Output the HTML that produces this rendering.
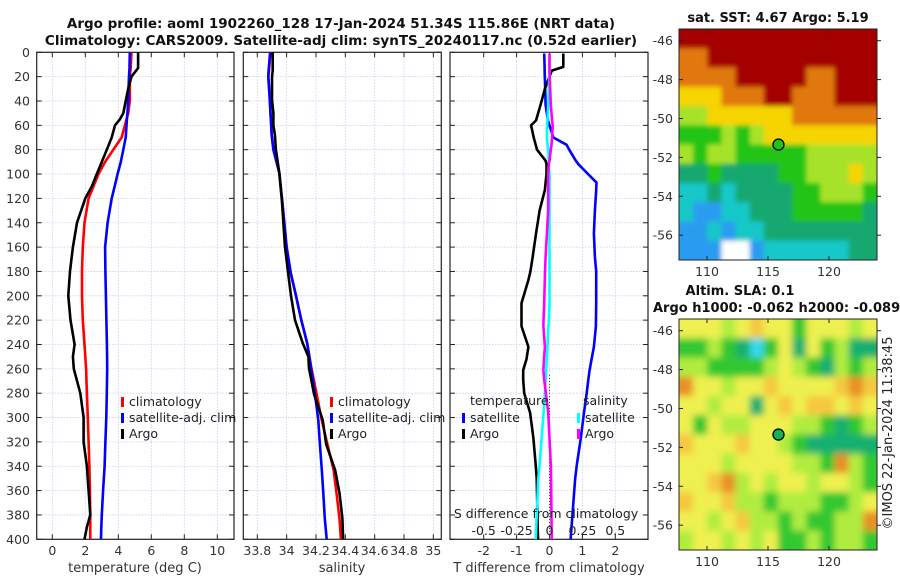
<!DOCTYPE html>
<html><head><meta charset="utf-8"><style>
html,body{margin:0;padding:0;background:#fff;}
svg{display:block;font-family:"DejaVu Sans","Liberation Sans",sans-serif;}
</style></head><body>
<svg id="fig" width="900" height="580" viewBox="0 0 900 580" xmlns="http://www.w3.org/2000/svg">
<text x="341" y="28" text-anchor="middle" font-size="13.5" font-weight="bold" fill="#111">Argo profile: aoml 1902260_128 17-Jan-2024 51.34S 115.86E (NRT data)</text>
<text x="341" y="45" text-anchor="middle" font-size="13.5" font-weight="bold" fill="#111">Climatology: CARS2009. Satellite-adj clim: synTS_20240117.nc (0.52d earlier)</text>
<text x="778" y="22" text-anchor="middle" font-size="13" font-weight="bold" fill="#111">sat. SST: 4.67 Argo: 5.19</text>
<text x="740" y="295" text-anchor="middle" font-size="13" font-weight="bold" fill="#111">Altim. SLA: 0.1</text>
<text x="653" y="312" font-size="13" font-weight="bold" fill="#111">Argo h1000: -0.062 h2000: -0.089</text>
<text transform="translate(892,433) rotate(-90)" text-anchor="middle" font-size="13" fill="#222">©IMOS 22-Jan-2024 11:38:45</text>
<g id="g"></g>
</svg>
<script>
// ---- profile data (depth in m) ----
const tDepth=[0,13,20,30,40,50,55,60,70,80,90,100,110,120,140,160,180,200,220,240,250,260,280,300,320,340,360,380,390,400];
const tClim=[4.8,4.75,4.7,4.7,4.7,4.6,4.5,4.4,4.2,3.7,3.2,2.8,2.5,2.2,1.95,1.85,1.8,1.8,1.85,1.95,2.0,2.05,2.1,2.15,2.2,2.25,2.28,2.3,2.3,2.3];
const tSat=[4.7,4.68,4.65,4.62,4.6,4.55,4.52,4.5,4.45,4.3,4.15,3.96,3.78,3.6,3.35,3.2,3.22,3.25,3.28,3.31,3.32,3.33,3.3,3.27,3.22,3.17,3.08,3.0,2.97,2.95];
const tArgo=[5.2,5.2,4.8,4.6,4.45,4.3,4.1,3.8,3.6,3.3,3.0,2.7,2.4,2.0,1.5,1.25,1.07,0.97,1.1,1.35,1.25,1.3,1.7,1.9,1.9,2.1,2.2,2.3,2.1,1.95];
const sDepth=[0,15,20,39,50,60,68,80,99,122,160,181,200,220,239,250,259,281,302,322,343,362,383,400];
const sClim=[33.89,33.88,33.875,33.885,33.89,33.895,33.898,33.91,33.95,33.97,34.0,34.028,34.064,34.10,34.14,34.155,34.168,34.205,34.239,34.278,34.32,34.34,34.36,34.37];
const sSat=[33.887,33.877,33.875,33.885,33.89,33.895,33.898,33.91,33.95,33.97,34.0,34.028,34.064,34.10,34.14,34.155,34.166,34.193,34.216,34.227,34.24,34.25,34.26,34.273];
const sArgo=[33.905,33.905,33.9,33.9,33.91,33.91,33.92,33.927,33.95,33.968,33.989,34.01,34.03,34.057,34.11,34.148,34.152,34.187,34.246,34.27,34.33,34.36,34.38,34.385];
const dDepth=[1,12,15,30,43,56,60,70,76,80,89,92,100,107,113,130,149,168,180,187,206,223,225,242,252,261,269,280,296,317,339,350,400];
const dTSat=[-0.16,-0.15,-0.15,-0.13,-0.12,-0.05,0.0,0.12,0.52,0.6,0.8,0.88,1.17,1.43,1.42,1.38,1.35,1.38,1.42,1.42,1.42,1.41,1.41,1.35,1.28,1.22,1.18,1.13,1.05,0.95,0.83,0.78,0.64];
const dTArgo=[0.42,0.42,0.07,-0.14,-0.27,-0.41,-0.56,-0.48,-0.42,-0.38,-0.12,-0.09,-0.09,-0.12,-0.14,-0.3,-0.41,-0.51,-0.58,-0.64,-0.85,-0.85,-0.85,-0.64,-0.7,-0.8,-0.8,-0.77,-0.59,-0.49,-0.42,-0.39,-0.35];
const dSSat=[0,0,0,-0.005,-0.01,-0.015,-0.018,-0.02,-0.015,-0.01,-0.005,-0.005,0,0,0,0,0,0,0,0,0,-0.005,-0.01,-0.015,-0.02,-0.025,-0.03,-0.035,-0.045,-0.06,-0.075,-0.085,-0.105];
const dSArgo=[0,0,0,0.005,0.01,0.02,0.024,0.02,0.015,0.01,0.0,-0.005,-0.01,-0.01,-0.01,-0.01,-0.02,-0.03,-0.034,-0.036,-0.04,-0.046,-0.046,-0.035,-0.042,-0.046,-0.04,-0.027,-0.01,0.0,0.01,0.012,0.017];
// ticks
const depthTicks=[0,20,40,60,80,100,120,140,160,180,200,220,240,260,280,300,320,340,360,380,400];
const tTicks=[0,2,4,6,8,10];
const sTicks=[33.8,34,34.2,34.4,34.6,34.8,35];
const sTickLabels=['33.8','34','34.2','34.4','34.6','34.8','35'];
const dtTicks=[-2,-1,0,1,2];
const dsTicks=[-0.5,-0.25,0,0.25,0.5];
const dsTickLabels=['-0.5','-0.25','0','0.25','0.5'];
const lonTicks=[110,115,120];
const latTicks=[-46,-48,-50,-52,-54,-56];
// map grids (colour class indices); 8 = no data
const sstGrid=[
[7,7,7,7,7,7,7,7,7,7,7,7,7,7],
[6,6,7,7,7,7,7,7,7,7,7,7,7,7],
[6,6,6,6,7,7,7,7,7,6,6,7,7,7],
[5,5,5,6,6,6,7,7,6,6,6,7,7,7],
[4,4,5,5,5,5,5,5,6,6,6,6,6,6],
[3,3,3,4,3,4,5,5,5,5,5,5,5,5],
[4,3,4,4,3,3,3,3,3,4,4,4,4,4],
[2,2,3,2,2,2,2,3,3,4,4,4,5,4],
[1,1,2,1,2,2,2,2,3,3,4,4,4,3],
[1,0,0,1,1,2,2,2,3,3,3,3,3,2],
[0,0,1,0,1,1,2,2,2,2,2,2,2,2],
[0,0,0,8,8,0,1,1,1,1,1,1,2,2]];
const slaGrid=[
[4,4,4,3,4,5,4,4,2,4,4,4,3,4],
[2,2,3,2,1,0,2,4,1,4,2,3,1,1],
[3,3,2,2,2,2,3,4,3,2,1,3,2,3],
[6,4,4,3,4,4,5,4,4,4,4,5,6,5],
[4,4,3,4,4,1,4,5,4,5,5,4,5,4],
[4,2,4,3,3,4,4,4,3,3,2,1,2,3],
[5,4,4,4,5,4,4,3,2,1,1,1,1,1],
[4,4,4,3,4,4,4,4,3,3,2,6,3,2],
[4,4,5,6,3,4,3,4,4,3,4,4,3,2],
[5,4,4,5,3,3,2,3,3,3,2,2,3,4],
[4,4,3,4,5,3,3,2,3,2,2,3,3,6],
[3,4,4,3,4,3,4,2,2,3,2,3,3,2]];
const sstColors=['#2a9cf0','#14c8c8','#12a870','#20c418','#a6e22a','#f6d400','#e07810','#a40000','#ffffff'];
const slaColors=['#38d8e8','#18b070','#30c830','#b0ec40','#eef050','#f5c840','#e89028','#c86018'];
const argoLon=115.86, argoLat=-51.34;

const NS='http://www.w3.org/2000/svg';
const G=document.getElementById('g');
function mk(tag,attrs,parent){const e=document.createElementNS(NS,tag);for(const k in attrs)e.setAttribute(k,attrs[k]);(parent||G).appendChild(e);return e;}
function txt(s,attrs,parent){const e=mk('text',attrs,parent);e.textContent=s;return e;}
const Y0=52.3,Y1=539.3;
const yD=d=>Y0+(d/400)*(Y1-Y0);
const gridCol='#c4cceb';

function panel(name,x0,x1,xf,ticks,labels,showY){
  const g=mk('g',{});
  
  
  ticks.forEach((t,i)=>{const x=xf(t);
    const l=mk('line',{x1:x,x2:x,y1:Y0,y2:Y1,stroke:gridCol,'stroke-width':0.8,'stroke-dasharray':'1.5,1.5'},g);
    
    mk('line',{x1:x,x2:x,y1:Y1,y2:Y1-5,stroke:'#222'},g);mk('line',{x1:x,x2:x,y1:Y0,y2:Y0+5,stroke:'#222'},g);
    const tl=txt(labels[i],{x:x,y:555,'text-anchor':'middle','font-size':12.5,fill:'#333'},g);
    
  });
  depthTicks.forEach(d=>{const y=yD(d);
    const l=mk('line',{x1:x0,x2:x1,y1:y,y2:y,stroke:gridCol,'stroke-width':0.8,'stroke-dasharray':'1.5,1.5'},g);
    
    mk('line',{x1:x0,x2:x0+5,y1:y,y2:y,stroke:'#222'},g);mk('line',{x1:x1,x2:x1-5,y1:y,y2:y,stroke:'#222'},g);
    if(showY){const tl=txt(String(d),{x:30,y:y+4.5,'text-anchor':'end','font-size':12.5,fill:'#333'},g);
      }
  });
  const fr=mk('rect',{x:x0,y:Y0,width:x1-x0,height:Y1-Y0,fill:'none',stroke:'#222','stroke-width':1.2},g);
  
  return g;
}
function line(g,name,xs,ds,xf,col){
  const p=xs.map((v,i)=>(i?'L':'M')+xf(v).toFixed(1)+','+yD(ds[i]).toFixed(1)).join('');
  const e=mk('path',{d:p,fill:'none',stroke:col,'stroke-width':2.6,'stroke-linejoin':'round'},g);
  
  
}
function legend(g,x,y,items){
  items.forEach((it,i)=>{
    const b=mk('rect',{x:x,y:y+i*16-9,width:3,height:10,fill:it[1]},g);
    
    const t=txt(it[0],{x:x+8,y:y+i*16,'font-size':12.5,fill:'#222'},g);
    
  });
}
// Panel 1 temperature
const xT=v=>52.3+v*16.5;
const p1=panel('temperature-panel',36.7,234,xT,tTicks,tTicks.map(String),true);
line(p1,'temp-climatology-line',tClim,tDepth,xT,'#ff0000');
line(p1,'temp-satellite-line',tSat,tDepth,xT,'#0000ff');
line(p1,'temp-argo-line',tArgo,tDepth,xT,'#000000');
legend(p1,121,406,[['climatology','#ff0000'],['satellite-adj. clim','#0000ff'],['Argo','#000000']]);
let t=txt('temperature (deg C)',{x:135,y:572,'text-anchor':'middle','font-size':13,fill:'#333'},p1);

// Panel 2 salinity
const xS=v=>257.3+(v-33.8)*146.7;
const p2=panel('salinity-panel',243.3,441.3,xS,sTicks,sTickLabels,false);
line(p2,'sal-climatology-line',sClim,sDepth,xS,'#ff0000');
line(p2,'sal-satellite-line',sSat,sDepth,xS,'#0000ff');
line(p2,'sal-argo-line',sArgo,sDepth,xS,'#000000');
legend(p2,330,406,[['climatology','#ff0000'],['satellite-adj. clim','#0000ff'],['Argo','#000000']]);
t=txt('salinity',{x:342,y:572,'text-anchor':'middle','font-size':13,fill:'#333'},p2);

// Panel 3 differences
const xDT=v=>549.5+v*32.9;
const xDS=v=>549.5+v*131.6;
const p3=panel('difference-panel',450,648,xDT,dtTicks,dtTicks.map(String),false);
const zl=mk('line',{x1:549.5,x2:549.5,y1:yD(265),y2:Y1,stroke:'#444','stroke-width':1,'stroke-dasharray':'1,2'},p3);

line(p3,'dT-satellite-line',dTSat,dDepth,xDT,'#0000ff');
line(p3,'dT-argo-line',dTArgo,dDepth,xDT,'#000000');
line(p3,'dS-satellite-line',dSSat,dDepth,xDS,'#00ffff');
line(p3,'dS-argo-line',dSArgo,dDepth,xDS,'#ff00ff');
t=txt('temperature',{x:470,y:405,'font-size':12.5,fill:'#222'},p3);
t=txt('salinity',{x:583,y:405,'font-size':12.5,fill:'#222'},p3);
legend(p3,462,422,[['satellite','#0000ff'],['Argo','#000000']]);
legend(p3,577,422,[['satellite','#00ffff'],['Argo','#ff00ff']]);
t=txt('S difference from climatology',{x:546,y:518,'text-anchor':'middle','font-size':12.5,fill:'#222'},p3);

dsTicks.forEach((v,i)=>{const e=txt(dsTickLabels[i],{x:xDS(v),y:535,'text-anchor':'middle','font-size':12.5,fill:'#222'},p3);
  });
t=txt('T difference from climatology',{x:549,y:572,'text-anchor':'middle','font-size':13,fill:'#333'},p3);


// Maps
const MX0=679,MX1=877;
const lonX=l=>707+(l-110)*12.2;
function map(name,top,lat46,grid,colors,blur,bg){
  const bot=top+231;
  const latY=l=>lat46+(-46-l)*19.45;
  const g=mk('g',{});
  
  
  const cid='clip'+name;
  const cp=mk('clipPath',{id:cid},g);mk('rect',{x:MX0,y:top,width:MX1-MX0,height:bot-top},cp);
  const f=mk('filter',{id:'bl'+name,x:'-5%',y:'-5%',width:'110%',height:'110%'},g);mk('feGaussianBlur',{stdDeviation:blur},f);
  const cg=mk('g',{'clip-path':'url(#'+cid+')'},g);
  const inner=mk('g',{filter:'url(#bl'+name+')'},cg);
  mk('rect',{x:MX0-10,y:top-10,width:MX1-MX0+20,height:bot-top+20,fill:bg},inner);
  const rows=grid.length,cols=grid[0].length;
  const cw=(MX1-MX0)/cols,ch=(bot-top)/rows;
  const ext=12;
  grid.forEach((row,r)=>row.forEach((v,c)=>{
    let x=MX0+c*cw,y=top+r*ch,w=cw+0.5,h=ch+0.5;
    if(c==0){x-=ext;w+=ext;}if(c==cols-1)w+=ext;if(r==0){y-=ext;h+=ext;}if(r==rows-1)h+=ext;
    const e=mk('rect',{x:x,y:y,width:w,height:h,fill:colors[v]},inner);
    
    
  }));
  const fr=mk('rect',{x:MX0,y:top,width:MX1-MX0,height:bot-top,fill:'none',stroke:'#222','stroke-width':1},g);
  
  lonTicks.forEach(l=>{const x=lonX(l);
    mk('line',{x1:x,x2:x,y1:bot,y2:bot-4,stroke:'#222'},g);mk('line',{x1:x,x2:x,y1:top,y2:top+4,stroke:'#222'},g);
    const e=txt(String(l),{x:x,y:bot+16,'text-anchor':'middle','font-size':12.5,fill:'#333'},g);
    });
  latTicks.forEach(l=>{const y=latY(l);
    mk('line',{x1:MX0,x2:MX0+4,y1:y,y2:y,stroke:'#222'},g);mk('line',{x1:MX1,x2:MX1+4,y1:y,y2:y,stroke:'#222'},g);
    const e=txt(String(l),{x:673,y:y+4.5,'text-anchor':'end','font-size':12.5,fill:'#333'},g);
    });
  const m=mk('circle',{cx:lonX(argoLon),cy:latY(argoLat),r:5.5,fill:colors===sstColors?'#20c418':'#18b050',stroke:'#000','stroke-width':1.3},g);
  
}
map('sst-map',29,40.7,sstGrid,sstColors,2.5,'#20c418');
map('sla-map',319,330.7,slaGrid,slaColors,3.5,'#eef050');
</script>
</body></html>
